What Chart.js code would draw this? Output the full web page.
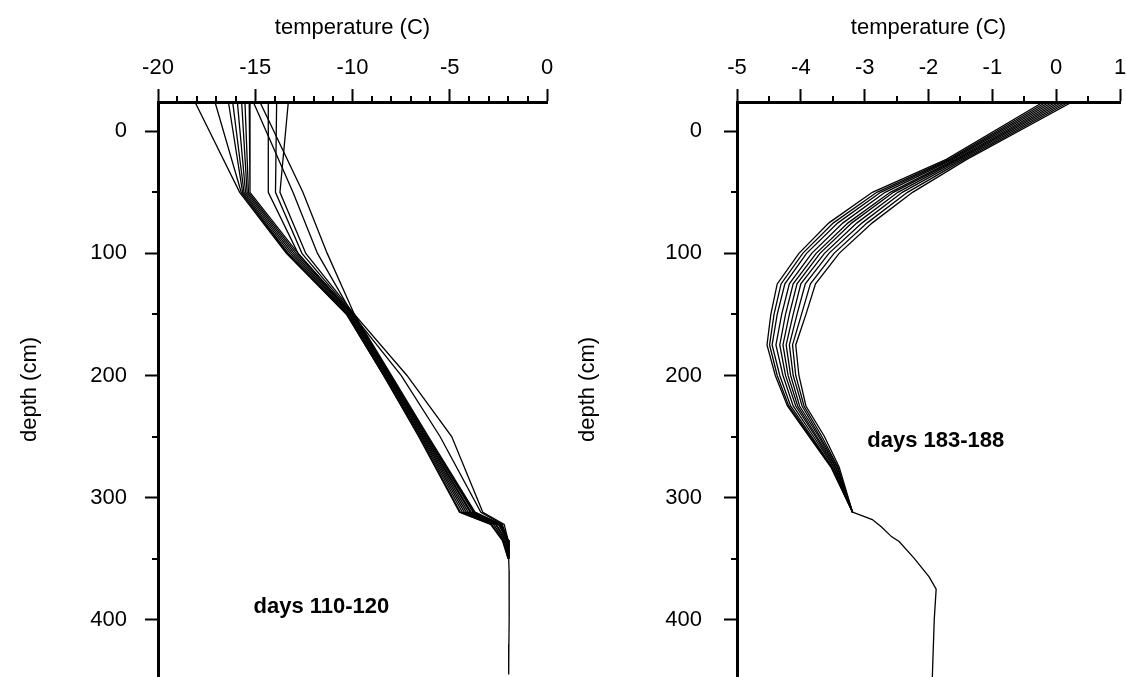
<!DOCTYPE html>
<html>
<head>
<meta charset="utf-8">
<script src="https://cdn.jsdelivr.net/npm/chart.js@4.4.1/dist/chart.umd.min.js"></script>
<style>
  html, body { margin: 0; padding: 0; background: #fff; }
  #wrap { position: relative; width: 1126px; height: 677px; overflow: hidden; }
  canvas { position: absolute; top: 0; }
  #left { left: 0; }
  #right { left: 560px; }
</style>
</head>
<body>
<div id="wrap">
  <canvas id="left" width="560" height="677"></canvas>
  <canvas id="right" width="566" height="677"></canvas>
</div>
<script>
// ---- data ----
// left panel: days 110-120
const depthsLeft = [-24, 50, 100, 150, 200, 250, 312, 322, 335, 350];
const profilesLeft = [
  [-18.1, -15.8, -13.4, -10.3, -8.4, -6.6, -4.5, -2.9, -2.3, -2.0],
  [-17.07, -15.72, -13.35, -10.3, -8.4, -6.55, -4.45, -2.85, -2.25, -2.0],
  [-16.38, -15.65, -13.3, -10.25, -8.35, -6.5, -4.35, -2.75, -2.2, -2.0],
  [-16.16, -15.58, -13.2, -10.2, -8.3, -6.45, -4.25, -2.65, -2.15, -1.98],
  [-15.92, -15.5, -13.1, -10.15, -8.25, -6.4, -4.15, -2.6, -2.1, -1.98],
  [-15.7, -15.42, -13.0, -10.1, -8.2, -6.35, -4.05, -2.5, -2.05, -1.97],
  [-15.53, -15.35, -12.9, -10.05, -8.15, -6.3, -3.95, -2.45, -2.05, -1.97],
  [-15.31, -15.27, -12.8, -10.0, -8.1, -6.25, -3.9, -2.4, -2.0, -1.97],
  [-15.1, -13.06, -11.8, -10.0, -7.5, -5.5, -3.4, -2.3, -2.0, -1.96],
  [-14.76, -12.55, -11.3, -9.9, -7.2, -4.9, -3.3, -2.2, -2.0, -1.96],
  [-14.33, -14.33, -12.8, -10.0, -8.1, -6.2, -3.8, -2.4, -2.0, -1.97],
  [-13.9, -13.96, -12.6, -9.95, -8.05, -6.15, -3.75, -2.4, -2.0, -1.97],
  [-13.3, -13.73, -12.4, -9.9, -8.0, -6.1, -3.7, -2.35, -2.0, -1.97]
];
const depthsLeftDeep = [350, 360, 380, 400, 420, 445];
const tempsLeftDeep = [-1.97, -1.95, -1.94, -1.95, -1.96, -1.97];

// right panel: days 183-188
const depthsRight = [-24, 23, 50, 75, 100, 125, 150, 175, 200, 225, 250, 275, 312];
const profilesRight = [
  [-0.20, -1.72, -2.88, -3.56, -4.03, -4.37, -4.47, -4.53, -4.40, -4.21, -3.87, -3.53, -3.19],
  [-0.15, -1.68, -2.81, -3.49, -3.97, -4.31, -4.42, -4.49, -4.37, -4.19, -3.85, -3.52, -3.19],
  [-0.10, -1.65, -2.75, -3.42, -3.91, -4.25, -4.37, -4.45, -4.33, -4.16, -3.83, -3.51, -3.19],
  [-0.05, -1.62, -2.68, -3.34, -3.83, -4.18, -4.30, -4.39, -4.28, -4.12, -3.80, -3.49, -3.19],
  [0.00, -1.58, -2.60, -3.26, -3.76, -4.12, -4.24, -4.33, -4.24, -4.08, -3.77, -3.48, -3.19],
  [0.05, -1.55, -2.55, -3.20, -3.70, -4.06, -4.18, -4.28, -4.20, -4.05, -3.75, -3.46, -3.19],
  [0.10, -1.52, -2.48, -3.12, -3.63, -4.00, -4.12, -4.23, -4.16, -4.02, -3.72, -3.45, -3.19],
  [0.15, -1.48, -2.41, -3.04, -3.56, -3.93, -4.06, -4.18, -4.12, -3.98, -3.70, -3.43, -3.19],
  [0.20, -1.44, -2.33, -2.96, -3.48, -3.85, -3.99, -4.13, -4.08, -3.95, -3.67, -3.42, -3.19],
  [0.25, -1.40, -2.25, -2.88, -3.40, -3.77, -3.92, -4.08, -4.03, -3.92, -3.63, -3.40, -3.19]
];
const depthsRightDeep = [312, 318, 324, 332, 336, 350, 365, 375, 400, 447];
const tempsRightDeep = [-3.19, -2.88, -2.74, -2.58, -2.46, -2.22, -1.99, -1.88, -1.91, -1.94];

const depthTicks = [0, 100, 200, 300, 400];
const depthMinor = [50, 150, 250, 350, 450];
const leftTempMinor = [-19, -18, -17, -16, -14, -13, -12, -11, -9, -8, -7, -6, -4, -3, -2, -1];
const rightTempMinor = [-4.5, -3.5, -2.5, -1.5, -0.5, 0.5];

const FONT = '"Liberation Sans", Arial, Helvetica, sans-serif';
const FS = 22;

function toPoints(depths, temps) {
  return depths.map((d, i) => ({ x: temps[i], y: d }));
}

function lineSet(points) {
  return {
    data: points,
    showLine: true,
    borderColor: '#000',
    borderWidth: 1.3,
    pointRadius: 0,
    tension: 0
  };
}

// minor ticks + panel label
const extras = {
  id: 'extras',
  afterDraw(chart, args, o) {
    const ctx = chart.ctx;
    const x = chart.scales.x, y = chart.scales.y;
    ctx.save();
    ctx.strokeStyle = '#000';
    ctx.lineWidth = 2;
    ctx.beginPath();
    o.xMinor.forEach(v => {
      const px = Math.round(x.getPixelForValue(v));
      ctx.moveTo(px, x.bottom);
      ctx.lineTo(px, x.bottom - 6);
    });
    o.yMinor.forEach(v => {
      const py = Math.round(y.getPixelForValue(v));
      ctx.moveTo(y.right, py);
      ctx.lineTo(y.right - 6, py);
    });
    ctx.stroke();
    ctx.fillStyle = '#000';
    ctx.font = 'bold ' + FS + 'px ' + FONT;
    ctx.textAlign = o.label.align;
    ctx.textBaseline = 'middle';
    ctx.fillText(o.label.text, x.getPixelForValue(o.label.t), y.getPixelForValue(o.label.d));
    ctx.restore();
  }
};

function makeChart(id, cfg) {
  const datasets = cfg.profiles.map(p => lineSet(toPoints(cfg.depths, p)));
  datasets.push(lineSet(toPoints(cfg.deepDepths, cfg.deepTemps)));

  new Chart(document.getElementById(id), {
    type: 'scatter',
    data: { datasets: datasets },
    options: {
      responsive: false,
      animation: false,
      layout: { padding: { left: 0, right: cfg.padRight, top: 0, bottom: 0 } },
      plugins: {
        legend: { display: false },
        tooltip: { enabled: false },
        extras: { xMinor: cfg.xMinor, yMinor: depthMinor, label: cfg.label }
      },
      scales: {
        x: {
          type: 'linear',
          position: 'top',
          min: cfg.xMin,
          max: cfg.xMax,
          ticks: {
            stepSize: cfg.step,
            autoSkip: false,
            maxRotation: 0,
            padding: 8,
            color: '#000',
            font: { size: FS, family: FONT },
            callback: v => String(v)
          },
          grid: { drawOnChartArea: false, tickLength: 13, tickWidth: 2, tickColor: '#000' },
          border: { display: true, width: 3, color: '#000' },
          title: {
            display: true,
            text: 'temperature (C)',
            color: '#000',
            font: { size: FS, family: FONT },
            padding: { top: 15, bottom: 0 }
          },
          afterFit: s => { s.height = 102; s.paddingLeft = 0; s.paddingRight = 0; }
        },
        y: {
          type: 'linear',
          position: 'left',
          reverse: true,
          min: -24,
          max: 447,
          afterBuildTicks: s => { s.ticks = depthTicks.map(v => ({ value: v })); },
          ticks: {
            padding: cfg.yPad,
            color: '#000',
            font: { size: FS, family: FONT },
            callback: v => String(v)
          },
          grid: { drawOnChartArea: false, tickLength: 13, tickWidth: 2, tickColor: '#000' },
          border: { display: true, width: 3, color: '#000' },
          title: {
            display: true,
            text: 'depth (cm)',
            color: '#000',
            font: { size: FS, family: FONT },
            padding: { top: cfg.yTitlePad, bottom: 0 }
          },
          afterFit: s => { s.width = cfg.yWidth; s.paddingTop = 0; s.paddingBottom = 0; }
        }
      }
    },
    plugins: [extras]
  });
}

makeChart('left', {
  depths: depthsLeft, profiles: profilesLeft,
  deepDepths: depthsLeftDeep, deepTemps: tempsLeftDeep,
  xMin: -20, xMax: 0, step: 5, xMinor: leftTempMinor,
  yWidth: 158, yTitlePad: 17, yPad: 18, padRight: 13,
  label: { text: 'days 110-120', t: -11.6, d: 390, align: 'center' }
});

makeChart('right', {
  depths: depthsRight, profiles: profilesRight,
  deepDepths: depthsRightDeep, deepTemps: tempsRightDeep,
  xMin: -5, xMax: 1, step: 1, xMinor: rightTempMinor,
  yWidth: 177, yTitlePad: 15, yPad: 22, padRight: 6,
  label: { text: 'days 183-188', t: -2.96, d: 254, align: 'left' }
});
</script>
</body>
</html>
